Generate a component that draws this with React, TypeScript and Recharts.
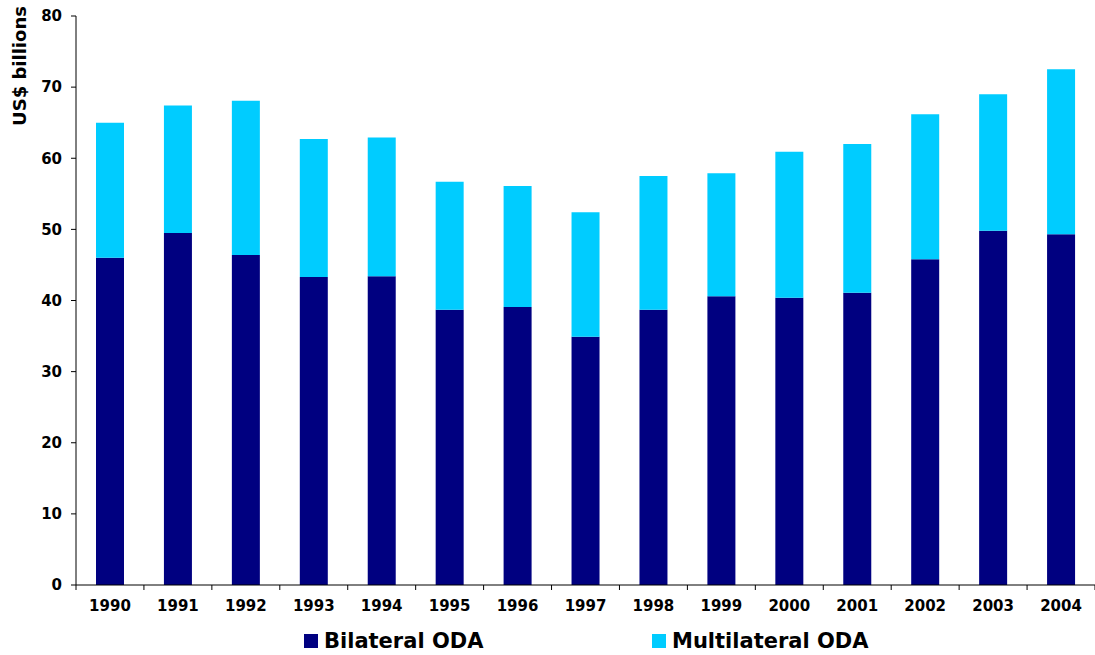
import React from "react";
import { BarChart, Bar, XAxis, YAxis, Legend, Label } from "recharts";

const years = [
  "1990", "1991", "1992", "1993", "1994", "1995", "1996", "1997",
  "1998", "1999", "2000", "2001", "2002", "2003", "2004",
];
const bilateral = [46.0, 49.5, 46.4, 43.3, 43.4, 38.7, 39.1, 34.9, 38.7, 40.6, 40.4, 41.1, 45.8, 49.8, 49.3];
const multilateral = [19.0, 17.9, 21.7, 19.4, 19.5, 18.0, 17.0, 17.5, 18.8, 17.3, 20.5, 20.9, 20.4, 19.2, 23.2];
const yTicks = [0, 10, 20, 30, 40, 50, 60, 70, 80];

const data = years.map((year, i) => ({
  year,
  bilateral: bilateral[i],
  multilateral: multilateral[i],
}));

const WIDTH = 1095;
const HEIGHT = 655;
const Y_AXIS_W = 76;
const FONT = "Verdana, 'DejaVu Sans', sans-serif";
const NAVY = "#000080";
const CYAN = "#00CCFF";

// half the width of one category band, used for the between-category tick marks
const HALF_BAND = (WIDTH - Y_AXIS_W) / years.length / 2;

const YearTick = (props: any) => {
  const { x, y, payload, index } = props;
  return (
    <g>
      <line x1={x - HALF_BAND} y1={y} x2={x - HALF_BAND} y2={y + 5} stroke="#000" />
      {index === years.length - 1 && (
        <line x1={x + HALF_BAND} y1={y} x2={x + HALF_BAND} y2={y + 5} stroke="#000" />
      )}
      <text
        x={x}
        y={y + 26}
        textAnchor="middle"
        fontFamily={FONT}
        fontWeight="bold"
        fontSize={15}
        fill="#000"
      >
        {payload.value}
      </text>
    </g>
  );
};

const LegendContent = () => (
  <div style={{ position: "relative", width: WIDTH, height: 40, fontFamily: FONT }}>
    {[
      { name: "Bilateral ODA", color: NAVY, left: 304 },
      { name: "Multilateral ODA", color: CYAN, left: 652 },
    ].map((item) => (
      <div
        key={item.name}
        style={{
          position: "absolute",
          left: item.left,
          top: 14,
          display: "flex",
          alignItems: "center",
          fontWeight: "bold",
          fontSize: 21,
          color: "#000",
          lineHeight: "24px",
        }}
      >
        <span
          style={{
            display: "inline-block",
            width: 14,
            height: 14,
            background: item.color,
            marginRight: 6,
          }}
        />
        {item.name}
      </div>
    ))}
  </div>
);

export default function App() {
  return (
    <div style={{ position: "absolute", left: 0, top: 0 }}>
      <BarChart
        width={WIDTH}
        height={HEIGHT}
        data={data}
        margin={{ top: 16, right: 0, left: 0, bottom: 0 }}
        barSize={28}
      >
        <XAxis
          dataKey="year"
          height={30}
          tickLine={false}
          tickSize={0}
          tickMargin={0}
          axisLine={{ stroke: "#000" }}
          tick={(p: any) => <YearTick {...p} />}
          interval={0}
        />
        <YAxis
          width={Y_AXIS_W}
          domain={[0, 80]}
          ticks={yTicks}
          interval={0}
          axisLine={{ stroke: "#000" }}
          tickLine={{ stroke: "#000" }}
          tickSize={5}
          tickMargin={9}
          tick={{ fontFamily: FONT, fontWeight: "bold", fontSize: 15, fill: "#000" }}
        >
          <Label
            content={() => (
              <text
                x={26}
                y={66}
                transform="rotate(-90 26 66)"
                textAnchor="middle"
                fontFamily={FONT}
                fontWeight="bold"
                fontSize={18}
                fill="#000"
              >
                US$ billions
              </text>
            )}
          />
        </YAxis>
        <Legend verticalAlign="bottom" content={() => <LegendContent />} wrapperStyle={{ left: 0 }} />
        <Bar dataKey="bilateral" name="Bilateral ODA" stackId="oda" fill={NAVY} isAnimationActive={false} />
        <Bar dataKey="multilateral" name="Multilateral ODA" stackId="oda" fill={CYAN} isAnimationActive={false} />
      </BarChart>
    </div>
  );
}
